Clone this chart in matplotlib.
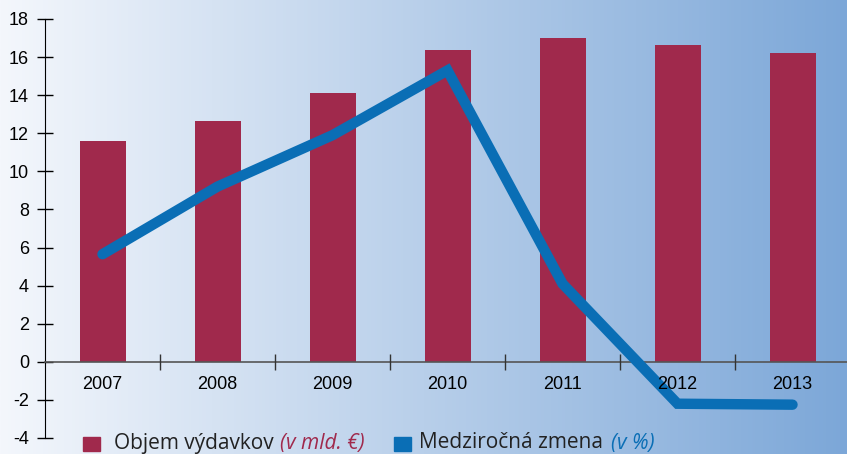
import numpy as np
import matplotlib.pyplot as plt
from matplotlib.ticker import FixedLocator

# data
years = ["2007", "2008", "2009", "2010", "2011", "2012", "2013"]
objem = [11.6, 12.65, 14.1, 16.35, 17.0, 16.65, 16.2]   # v mld. EUR
zmena = [5.65, 9.2, 11.9, 15.3, 4.1, -2.2, -2.25]       # v %

bar_color = "#A0294C"
line_color = "#0A6EB5"

plt.rcParams['font.family'] = ['Liberation Sans', 'DejaVu Sans']
plt.rcParams['axes.unicode_minus'] = False

fig = plt.figure(figsize=(8.47, 4.54), dpi=100)

# background gradient, left to right
bg = fig.add_axes([0, 0, 1, 1], zorder=0)
left = np.array([244, 247, 252]) / 255
right = np.array([124, 167, 216]) / 255
t = np.linspace(0, 1, 400)[None, :, None]
grad = left + (right - left) * t
bg.imshow(grad, aspect="auto", extent=[0, 1, 0, 1])
bg.axis("off")

ax = fig.add_axes([45 / 847, 16 / 454, 805 / 847, 419 / 454], zorder=1)
ax.patch.set_alpha(0)
x = np.arange(len(years))

ax.bar(x, objem, width=0.4, color=bar_color, zorder=2)
ax.plot(x, zmena, color=line_color, lw=7.5, solid_capstyle="round",
        solid_joinstyle="miter", zorder=4)

ax.set_xlim(-0.5, 6.5)
ax.set_ylim(-4, 18)
ax.set_yticks(range(-4, 19, 2))
ax.tick_params(axis="y", direction="inout", length=11, width=1, labelsize=13,
               pad=6, colors="black")

for s in ["top", "right"]:
    ax.spines[s].set_visible(False)
ax.spines["left"].set_color("black")
ax.spines["bottom"].set_position(("data", 0))
ax.spines["bottom"].set_color("#555555")
ax.spines["bottom"].set_linewidth(1.2)

ax.set_xticks(x)
ax.set_xticklabels(years)
ax.xaxis.set_minor_locator(FixedLocator(np.arange(0.5, 6, 1)))
ax.tick_params(axis="x", which="major", length=0, pad=10, labelsize=13)
ax.tick_params(axis="x", which="minor", direction="inout", length=11,
               width=1, color="#333333")
ax.xaxis.set_zorder(5)  # year labels sit on top of the line

# legend built from pieces of text (pixel positions from the top left)
H = 454
W = 847
yl = 1 - 443 / H
fs = 15
fam = ["Open Sans", "DejaVu Sans"]
fig.patches.append(plt.Rectangle((83 / W, 1 - 451 / H), 17 / W, 14 / H,
                                 transform=fig.transFigure, color=bar_color))
fig.text(114 / W, yl, "Objem výdavkov", fontsize=fs, va="center",
         family=fam, color="#222222")
fig.text(280 / W, yl, "(v mld. €)", fontsize=fs, va="center",
         style="italic", family=fam, color=bar_color)
fig.patches.append(plt.Rectangle((394 / W, 1 - 451 / H), 17 / W, 14 / H,
                                 transform=fig.transFigure, color=line_color))
fig.text(419 / W, yl, "Medziročná zmena", fontsize=fs, va="center",
         family=fam, color="#222222")
fig.text(611 / W, yl, "(v %)", fontsize=fs, va="center",
         style="italic", family=fam, color=line_color)

fig.savefig("out.png", dpi=100)
